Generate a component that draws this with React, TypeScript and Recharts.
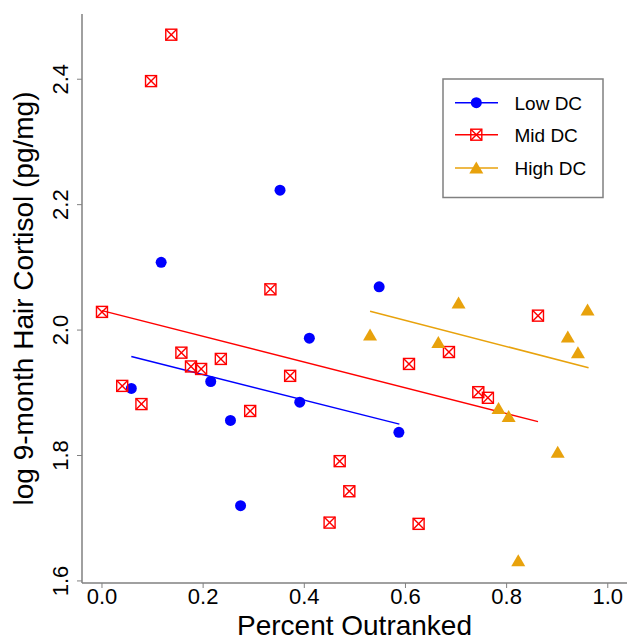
import React from 'react';
import { ScatterChart, Scatter, XAxis, YAxis, Legend } from 'recharts';

// values
const lowX = [0.058, 0.117, 0.215, 0.254, 0.274, 0.352, 0.41, 0.391, 0.548, 0.587];
const lowY = [1.907, 2.108, 1.918, 1.856, 1.72, 2.223, 1.987, 1.885, 2.069, 1.837];

const midX = [
  0.137, 0.097, 0.0, 0.333, 0.157, 0.176, 0.196, 0.235, 0.04, 0.078, 0.372,
  0.293, 0.47, 0.489, 0.45, 0.862, 0.686, 0.607, 0.744, 0.763, 0.626,
];
const midY = [
  2.471, 2.397, 2.029, 2.065, 1.964, 1.942, 1.938, 1.954, 1.911, 1.882, 1.927,
  1.871, 1.791, 1.743, 1.693, 2.023, 1.965, 1.946, 1.901, 1.892, 1.691,
];

const highX = [0.705, 0.96, 0.53, 0.921, 0.665, 0.941, 0.784, 0.804, 0.901, 0.823];
const highY = [2.043, 2.032, 1.992, 1.989, 1.98, 1.964, 1.875, 1.862, 1.805, 1.632];

// fitted lines (end points)
const lowFitX = [0.058, 0.588];
const lowFitY = [1.958, 1.85];
const midFitX = [0.0, 0.862];
const midFitY = [2.031, 1.854];
const highFitX = [0.53, 0.962];
const highFitY = [2.03, 1.94];

const xTicks = [0, 0.2, 0.4, 0.6, 0.8, 1.0];
const yTicks = [1.6, 1.8, 2.0, 2.2, 2.4];

const seriesNames = ['Low DC', 'Mid DC', 'High DC'];

const BLUE = '#0000ff';
const RED = '#ff0000';
const GOLD = '#e8a20c';
const AXIS = '#808080';
const FONT = '"Liberation Sans", Arial, sans-serif';

const zip = (xs: number[], ys: number[]) => xs.map((x, i) => ({ x, y: ys[i] }));

const lowData = zip(lowX, lowY);
const midData = zip(midX, midY);
const highData = zip(highX, highY);

const Dot = ({ cx, cy }: any) => <circle cx={cx} cy={cy} r={5.5} fill={BLUE} />;

const BoxX = ({ cx, cy }: any) => {
  const h = 5.5;
  return (
    <g stroke={RED} strokeWidth={1.4} fill="none">
      <rect x={cx - h} y={cy - h} width={h * 2} height={h * 2} />
      <line x1={cx - h} y1={cy - h} x2={cx + h} y2={cy + h} />
      <line x1={cx - h} y1={cy + h} x2={cx + h} y2={cy - h} />
    </g>
  );
};

const Tri = ({ cx, cy }: any) => (
  <polygon
    points={`${cx},${cy - 6.5} ${cx + 7},${cy + 5.5} ${cx - 7},${cy + 5.5}`}
    fill={GOLD}
  />
);

const NoShape = () => <g />;

const XTick = ({ x, y, payload }: any) => (
  <text x={x} y={y + 14} textAnchor="middle" fontSize={22} fill="#000" fontFamily={FONT}>
    {Number(payload.value).toFixed(1)}
  </text>
);

const YTick = ({ x, y, payload }: any) => {
  const bx = x - 7;
  return (
    <text
      x={bx}
      y={y}
      transform={`rotate(-90, ${bx}, ${y})`}
      textAnchor="middle"
      fontSize={22}
      fill="#000"
      fontFamily={FONT}
    >
      {Number(payload.value).toFixed(1)}
    </text>
  );
};

const LegendBox = () => {
  const rows = [
    { name: seriesNames[0], color: BLUE, mark: (cx: number, cy: number) => <Dot cx={cx} cy={cy} /> },
    { name: seriesNames[1], color: RED, mark: (cx: number, cy: number) => <BoxX cx={cx} cy={cy} /> },
    { name: seriesNames[2], color: GOLD, mark: (cx: number, cy: number) => <Tri cx={cx} cy={cy} /> },
  ];
  const rowY = [24.7, 56.7, 90];
  return (
    <svg width={162} height={121} style={{ display: 'block' }}>
      <rect x={1} y={1} width={160} height={118.5} fill="#fff" stroke={AXIS} strokeWidth={1.5} />
      {rows.map((r, i) => (
        <g key={r.name}>
          <line x1={13} y1={rowY[i]} x2={56} y2={rowY[i]} stroke={r.color} strokeWidth={1.5} />
          {r.mark(34.3, rowY[i])}
          <text x={72.5} y={rowY[i] + 7} fontSize={19} fill="#000" fontFamily={FONT}>
            {r.name}
          </text>
        </g>
      ))}
    </svg>
  );
};

export default function App() {
  return (
    <div style={{ position: 'absolute', left: 0, top: 0, width: 627, height: 641, background: '#fff' }}>
      <ScatterChart width={627} height={641} margin={{ top: 14, right: 0, bottom: 0, left: 0 }}>
        <XAxis
          type="number"
          dataKey="x"
          domain={[-0.0395, 1.038]}
          ticks={xTicks}
          allowDataOverflow
          height={58}
          tickSize={5}
          tickMargin={2}
          tick={XTick}
          axisLine={{ stroke: AXIS, strokeWidth: 1.5 }}
          tickLine={{ stroke: AXIS, strokeWidth: 1 }}
          label={{
            content: (props: any) => {
              const vb = props.viewBox || { x: 82, y: 583, width: 545 };
              return (
                <text
                  x={vb.x + vb.width / 2}
                  y={vb.y + 52}
                  textAnchor="middle"
                  fontSize={28}
                  fill="#000"
                  fontFamily={FONT}
                >
                  Percent Outranked
                </text>
              );
            },
          }}
        />
        <YAxis
          type="number"
          dataKey="y"
          domain={[1.5967, 2.504]}
          ticks={yTicks}
          allowDataOverflow
          width={82}
          tickSize={5}
          tickMargin={2}
          tick={YTick}
          axisLine={{ stroke: AXIS, strokeWidth: 1.5 }}
          tickLine={{ stroke: AXIS, strokeWidth: 1 }}
          label={{
            content: (props: any) => {
              const vb = props.viewBox || { x: 0, y: 14, height: 569 };
              const lx = vb.x + 33;
              const ly = vb.y + vb.height / 2;
              return (
                <text
                  x={lx}
                  y={ly}
                  transform={`rotate(-90, ${lx}, ${ly})`}
                  textAnchor="middle"
                  fontSize={28}
                  fill="#000"
                  fontFamily={FONT}
                >
                  log 9-month Hair Cortisol (pg/mg)
                </text>
              );
            },
          }}
        />
        <Legend
          layout="vertical"
          align="center"
          verticalAlign="middle"
          content={LegendBox}
          wrapperStyle={{ left: 442, top: 78, width: 162, height: 121 }}
        />
        <Scatter data={zip(lowFitX, lowFitY)} line={{ stroke: BLUE, strokeWidth: 1.5 }} shape={NoShape} legendType="none" isAnimationActive={false} />
        <Scatter data={zip(midFitX, midFitY)} line={{ stroke: RED, strokeWidth: 1.5 }} shape={NoShape} legendType="none" isAnimationActive={false} />
        <Scatter data={zip(highFitX, highFitY)} line={{ stroke: GOLD, strokeWidth: 1.5 }} shape={NoShape} legendType="none" isAnimationActive={false} />
        <Scatter name={seriesNames[0]} data={lowData} shape={Dot} isAnimationActive={false} />
        <Scatter name={seriesNames[1]} data={midData} shape={BoxX} isAnimationActive={false} />
        <Scatter name={seriesNames[2]} data={highData} shape={Tri} isAnimationActive={false} />
      </ScatterChart>
    </div>
  );
}
